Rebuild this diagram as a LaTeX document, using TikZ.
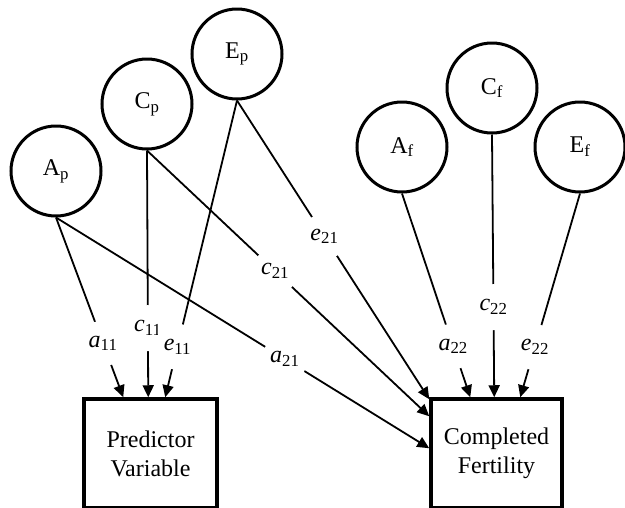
\documentclass[tikz,border=0pt]{standalone}
\usepackage{fontspec}
\setmainfont{Liberation Serif}
\usetikzlibrary{arrows.meta}

\tikzset{
  latent/.style={circle, draw, line width=3pt, minimum size=90pt, inner sep=0pt},
  observed/.style={rectangle, draw, line width=3.5pt, minimum width=133pt, minimum height=109pt, align=center},
  coef/.style={circle, fill=white, inner sep=0pt, minimum size=46pt},
  loading/.style={line width=1.8pt, -{Triangle[length=12pt,width=11pt]}}
}

\begin{document}
\begin{tikzpicture}[x=1pt, y=-1pt, every node/.style={font=\fontsize{24}{29}\selectfont}]
\useasboundingbox (0,0) rectangle (625,507);

\node[latent] (Ap) at (56,171) {A\textsubscript{p}};
\node[latent] (Cp) at (147,104) {C\textsubscript{p}};
\node[latent] (Ep) at (237,54) {E\textsubscript{p}};

\node[latent] (Af) at (402,147) {A\textsubscript{f}};
\node[latent] (Cf) at (492,88) {C\textsubscript{f}};
\node[latent] (Ef) at (580,147) {E\textsubscript{f}};

\node[observed] (pv) at (150.5,453.5) {Predictor\\Variable};
\node[observed, minimum width=131pt] (cf) at (496.5,453.5) {Completed\\Fertility};

\draw[loading] (Ap.south) -- node[coef, pos=0.70] (a11) {\textit{a}\textsubscript{11}} ([xshift=41pt]pv.north west);
\draw[loading] (Cp.south) -- node[coef, pos=0.72] (c11) {\textit{c}\textsubscript{11}} ([xshift=66pt]pv.north west);
\draw[loading] (Ep.south) -- node[coef, pos=0.83] (e11) {\textit{e}\textsubscript{11}} ([xshift=83pt]pv.north west);

\draw[loading] (Ep.south) -- node[coef, pos=0.455] (e21) {\textit{e}\textsubscript{21}} ([yshift=-2pt]cf.north west);
\draw[loading] (Cp.south) -- node[coef, pos=0.454] (c21) {\textit{c}\textsubscript{21}} ([yshift=-19pt]cf.north west);
\draw[loading] (Ap.south) -- node[coef, pos=0.613] (a21) {\textit{a}\textsubscript{21}} ([yshift=-51pt]cf.north west);

\draw[loading] (Af.south) -- node[coef, pos=0.75] (a22) {\textit{a}\textsubscript{22}} ([xshift=41pt]cf.north west);
\draw[loading] (Cf.south) -- node[coef, pos=0.657] (c22) {\textit{c}\textsubscript{22}} ([xshift=65pt]cf.north west);
\draw[loading] (Ef.south) -- node[coef, pos=0.754] (e22) {\textit{e}\textsubscript{22}} ([xshift=91pt]cf.north west);

\end{tikzpicture}
\end{document}
